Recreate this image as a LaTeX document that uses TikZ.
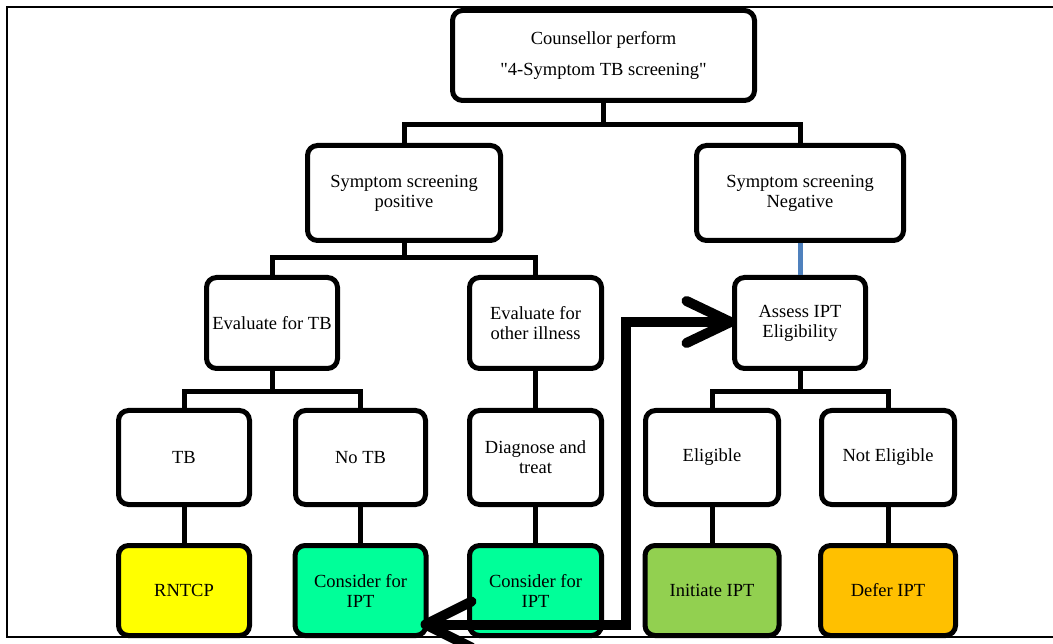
\documentclass[tikz,border=0pt]{standalone}
\usepackage{fontspec}
\setmainfont{Liberation Serif}[Ligatures=TeXOff]
\usetikzlibrary{calc}
\definecolor{rntcpfill}{HTML}{FFFF00}
\definecolor{iptfill}{HTML}{00FF99}
\definecolor{initfill}{HTML}{92D050}
\definecolor{deferfill}{HTML}{FFC000}
\definecolor{neglink}{HTML}{4F81BD}
\begin{document}
\begin{tikzpicture}[x=1pt,y=-1pt,
  box/.style={draw, line width=5pt, rounded corners=10pt, fill=white,
    align=center, inner sep=0pt, text=black,
    font=\fontsize{18.5}{20}\selectfont},
  link/.style={line width=5pt},
  bold arrow/.style={line width=10pt, line join=miter},
  barb/.style={line width=10pt, line cap=round, line join=round},
  frame/.style={line width=2pt}]
\useasboundingbox (0,0) rectangle (1053,644);

% outer frame, open on the right
\draw[frame] (1053,7) -- (7,7) -- (7,637) -- (1053,637);

% level 1
\node[box, minimum width=302pt, minimum height=90pt] (top) at (603.5,55.5)
  {Counsellor perform\\[11pt]"4-Symptom TB screening"};

% level 2
\node[box, minimum width=193pt, minimum height=95pt] (pos) at (404,193)
  {Symptom screening\\positive};
\node[box, minimum width=207pt, minimum height=95pt] (neg) at (800,193)
  {Symptom screening\\Negative};

% level 3
\node[box, minimum width=131pt, minimum height=91pt] (evtb) at (272,323)
  {Evaluate for TB};
\node[box, minimum width=132pt, minimum height=91pt] (evoth) at (535.5,323)
  {Evaluate for\\other illness};
\node[box, minimum width=131pt, minimum height=91pt] (assess) at (800,323)
  {Assess IPT\\Eligibility};

% level 4
\node[box, minimum width=131pt, minimum height=94pt] (tb) at (184,457.5) {TB};
\node[box, minimum width=130pt, minimum height=94pt] (notb) at (360.5,457.5) {No TB};
\node[box, minimum width=132pt, minimum height=94pt] (diag) at (535.5,457.5)
  {Diagnose and\\treat};
\node[box, minimum width=133pt, minimum height=94pt] (elig) at (712,457.5) {Eligible};
\node[box, minimum width=133pt, minimum height=94pt] (notelig) at (888,457.5)
  {Not Eligible};

% level 5
\node[box, fill=rntcpfill, minimum width=131pt, minimum height=90pt] (rntcp)
  at (184,590.5) {RNTCP};
\node[box, fill=iptfill, minimum width=131pt, minimum height=90pt] (cons1)
  at (360.5,590.5) {Consider for\\IPT};
\node[box, fill=iptfill, minimum width=132pt, minimum height=90pt] (cons2)
  at (535.5,590.5) {Consider for\\IPT};
\node[box, fill=initfill, minimum width=134pt, minimum height=90pt] (init)
  at (712,590.5) {Initiate IPT};
\node[box, fill=deferfill, minimum width=135pt, minimum height=90pt] (defer)
  at (888,590.5) {Defer IPT};

% tree connectors
\draw[link] (top.south) |- (pos.north |- 0,125) -- (pos.north);
\draw[link] (top.south) |- (neg.north |- 0,125) -- (neg.north);
\draw[link] (pos.south) |- (evtb.north |- 0,258) -- (evtb.north);
\draw[link] (pos.south) |- (evoth.north |- 0,258) -- (evoth.north);
\draw[link, neglink] (neg.south) -- (assess.north);
\draw[link] (evtb.south) |- (tb.north |- 0,392) -- (tb.north);
\draw[link] (evtb.south) |- (notb.north |- 0,392) -- (notb.north);
\draw[link] (evoth.south) -- (diag.north);
\draw[link] (assess.south) |- (elig.north |- 0,392) -- (elig.north);
\draw[link] (assess.south) |- (notelig.north |- 0,392) -- (notelig.north);
\draw[link] (tb.south) -- (rntcp.north);
\draw[link] (notb.south) -- (cons1.north);
\draw[link] (diag.south) -- (cons2.north);
\draw[link] (elig.south) -- (init.north);
\draw[link] (notelig.south) -- (defer.north);

% heavy double-headed arrow between the two IPT boxes
\coordinate (arrL) at ($(cons1.south east)+(-3,-13.5)$);
\coordinate (arrR) at ($(assess.west)+(-1.5,-1)$);
\coordinate (bend) at (626,470);
\draw[bold arrow] (arrL) -| (bend) |- (arrR);
\draw[barb] ($(arrL)+(46,-23)$) -- (arrL) -- ($(arrL)+(46,23)$);
\draw[barb] ($(arrR)+(-44,-21)$) -- (arrR) -- ($(arrR)+(-44,21)$);
\end{tikzpicture}
\end{document}
